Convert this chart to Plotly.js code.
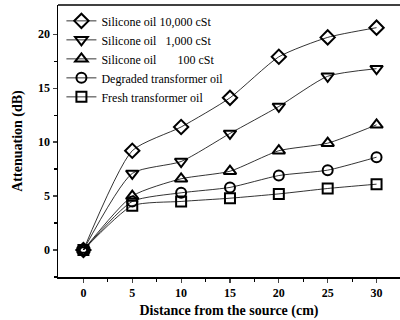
<!DOCTYPE html>
<html><head><meta charset="utf-8">
<script src="https://cdn.plot.ly/plotly-3.0.1.min.js"></script>
<style>body{margin:0;background:#fff}#c{width:400px;height:320px}</style>
</head><body><div id="c"></div>
<script>
const distance = [0, 5, 10, 15, 20, 25, 30];
const sil10000 = [0, 9.2, 11.4, 14.1, 17.9, 19.7, 20.6];
const sil1000 = [0, 7.1, 8.2, 10.8, 13.3, 16.1, 16.8];
const sil100 = [0, 5.0, 6.6, 7.3, 9.2, 9.9, 11.6];
const degraded = [0, 4.5, 5.3, 5.8, 6.9, 7.4, 8.6];
const fresh = [0, 4.1, 4.5, 4.8, 5.2, 5.7, 6.1];
const names = ["Silicone oil 10,000 cSt", "Silicone oil \u00a0 1,000 cSt", "Silicone oil \u00a0\u00a0\u00a0\u00a0\u00a0 100 cSt", "Degraded transformer oil", "Fresh transformer oil"];
const symbols = ["diamond-open", "triangle-down-open", "triangle-up-open", "circle-open", "square-open"];
const series = [sil10000, sil1000, sil100, degraded, fresh];
const sizes = [11, 11, 11, 10, 10];
const traces = series.map((s, i) => ({
  x: distance, y: s, name: names[i], type: 'scatter', mode: 'lines+markers',
  line: {color: '#000', width: 0.8, shape: 'spline', smoothing: 0.6},
  marker: {symbol: symbols[i], size: sizes[i], color: '#000', line: {color: '#000', width: 2}}
}));
const serif = 'Liberation Serif, Times New Roman, serif';
const layout = {
  width: 400, height: 320,
  margin: {l: 58, r: 0, t: 5, b: 43},
  paper_bgcolor: '#fff', plot_bgcolor: '#fff',
  font: {family: serif, color: '#000'},
  showlegend: true,
  legend: {x: 0.01, y: 0.995, xanchor: 'left', yanchor: 'top', bgcolor: 'rgba(0,0,0,0)',
    font: {family: serif, size: 12, color: '#000'}, tracegroupgap: 0, itemwidth: 30},
  xaxis: {range: [-2.6, 32.4], tickvals: [0, 5, 10, 15, 20, 25, 30], ticks: 'outside', ticklen: 4,
    tickwidth: 1.2, linecolor: '#000', linewidth: 1.5, showline: true, showgrid: false, zeroline: false,
    mirror: false, tickfont: {family: serif, size: 12, color: '#000', weight: 'bold'},
    minor: {tickvals: [2.5, 7.5, 12.5, 17.5, 22.5, 27.5], ticks: 'outside', ticklen: 3, tickcolor: '#000'},
    title: {text: 'Distance from the source (cm)', font: {family: serif, size: 14, color: '#000', weight: 'bold'}, standoff: 6}},
  yaxis: {range: [-2.5, 22.7], tickvals: [0, 5, 10, 15, 20], ticks: 'outside', ticklen: 4,
    tickwidth: 1.2, linecolor: '#000', linewidth: 1.5, showline: true, showgrid: false, zeroline: false,
    tickfont: {family: serif, size: 12, color: '#000', weight: 'bold'},
    minor: {tickvals: [-2.5, 2.5, 7.5, 12.5, 17.5], ticks: 'outside', ticklen: 3, tickcolor: '#000'},
    title: {text: 'Attenuation (dB)', font: {family: serif, size: 14, color: '#000', weight: 'bold'}, standoff: 12}},
  shapes: [{type: 'line', xref: 'paper', yref: 'paper', x0: 0, x1: 1, y0: 1, y1: 1, line: {color: '#000', width: 1.5}}]
};
Plotly.newPlot('c', traces, layout, {staticPlot: true});
</script></body></html>
